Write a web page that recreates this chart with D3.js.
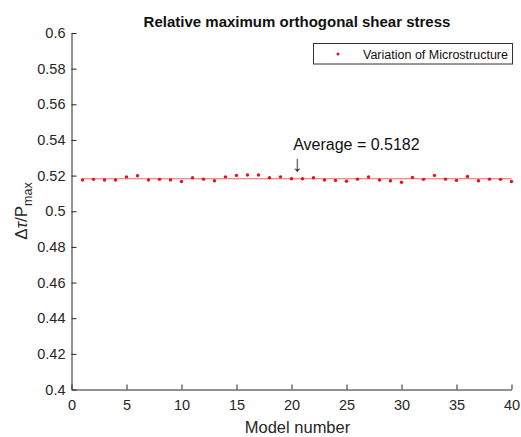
<!DOCTYPE html>
<html>
<head>
<meta charset="utf-8">
<script src="https://cdn.jsdelivr.net/npm/d3@7"></script>
<style>
  html, body { margin: 0; padding: 0; background: #fff; }
  svg { display: block; font-family: Arial, "Liberation Sans", Helvetica, sans-serif; }
</style>
</head>
<body>
<svg id="chart" width="521" height="437"></svg>
<script>
// Model numbers and the relative maximum orthogonal shear stress of each model
const models = d3.range(1, 41);
const stressRatio = [
  0.5175, 0.5179, 0.5175, 0.5175, 0.5193, 0.5199, 0.5175, 0.5179, 0.5176, 0.5167,
  0.5188, 0.5180, 0.5171, 0.5193, 0.5201, 0.5203, 0.5203, 0.5188, 0.5193, 0.5182,
  0.5182, 0.5188, 0.5175, 0.5173, 0.5169, 0.5180, 0.5192, 0.5175, 0.5171, 0.5163,
  0.5190, 0.5179, 0.5201, 0.5180, 0.5173, 0.5195, 0.5171, 0.5180, 0.5179, 0.5167
];
const averageValue = 0.5182;
const xTicks = [0, 5, 10, 15, 20, 25, 30, 35, 40];
const yTicks = [0.4, 0.42, 0.44, 0.46, 0.48, 0.5, 0.52, 0.54, 0.56, 0.58, 0.6];

const textColor = "#262626";
const svg = d3.select("#chart");

const plot = { left: 71.5, right: 511.5, top: 33, bottom: 389.5 };
const x = d3.scaleLinear().domain([0, 40]).range([plot.left, plot.right]);
const y = d3.scaleLinear().domain([0.4, 0.6]).range([plot.bottom, plot.top]);

// Axes with inward ticks, no box
const xAxis = d3.axisBottom(x).tickValues(xTicks).tickSizeInner(-5).tickSizeOuter(0)
  .tickPadding(10).tickFormat(d3.format("d"));
const yAxis = d3.axisLeft(y).tickValues(yTicks).tickSizeInner(-5).tickSizeOuter(0)
  .tickPadding(11).tickFormat(d => String(+d.toFixed(2)));

const gx = svg.append("g").attr("transform", `translate(0,${plot.bottom})`).call(xAxis);
const gy = svg.append("g").attr("transform", `translate(${plot.left},0)`).call(yAxis);
[gx, gy].forEach(g => {
  g.select(".domain").attr("stroke", textColor).attr("stroke-width", 1);
  g.selectAll(".tick line").attr("stroke", textColor).attr("stroke-width", 1);
  g.selectAll(".tick text").attr("fill", textColor).attr("font-size", 14.5)
    .attr("font-family", "Arial, 'Liberation Sans', sans-serif");
});
gy.selectAll(".tick text").attr("dx", 5);
gx.selectAll(".tick text").attr("dy", "0.71em");

// Average line
svg.append("line")
  .attr("x1", x(models[0])).attr("x2", x(models[models.length - 1]))
  .attr("y1", y(averageValue)).attr("y2", y(averageValue))
  .attr("stroke", "#f06464").attr("stroke-width", 1.1);

// Data points
svg.append("g").selectAll("circle")
  .data(models.map((m, i) => ({ m, v: stressRatio[i] })))
  .join("circle")
  .attr("cx", d => x(d.m)).attr("cy", d => y(d.v))
  .attr("r", 1.7).attr("fill", "#e8101a");

// Average annotation
const annX = x(20.15);
svg.append("text").attr("x", annX).attr("y", 150)
  .attr("font-size", 16).attr("fill", "#111")
  .text(`Average = ${averageValue}`);
svg.append("text").attr("x", annX + 4).attr("y", 171)
  .attr("text-anchor", "middle")
  .attr("font-size", 22).attr("fill", "#333")
  .text("↓");

// Title
svg.append("text").attr("x", 297).attr("y", 26.5)
  .attr("text-anchor", "middle").attr("font-size", 15).attr("font-weight", "bold")
  .attr("fill", "#111")
  .text("Relative maximum orthogonal shear stress");

// Axis labels
svg.append("text").attr("x", (plot.left + plot.right) / 2 + 6).attr("y", 433)
  .attr("text-anchor", "middle").attr("font-size", 16.5).attr("fill", textColor)
  .text("Model number");

const yl = svg.append("text")
  .attr("transform", `translate(27,211) rotate(-90)`)
  .attr("text-anchor", "middle").attr("font-size", 17).attr("fill", textColor);
yl.append("tspan").text("Δ");
yl.append("tspan").attr("font-style", "italic").text("τ");
yl.append("tspan").text("/P");
yl.append("tspan").attr("font-size", 12.5).attr("dy", 5).text("max");

// Legend
const lg = svg.append("g");
lg.append("rect").attr("x", 313.5).attr("y", 43.5).attr("width", 199).attr("height", 20.5)
  .attr("fill", "#fff").attr("stroke", "#333").attr("stroke-width", 1);
lg.append("circle").attr("cx", 338).attr("cy", 54).attr("r", 1.5).attr("fill", "#e8101a");
lg.append("text").attr("x", 363).attr("y", 58.5).attr("font-size", 12.5).attr("fill", "#111")
  .text("Variation of Microstructure");
</script>
</body>
</html>
